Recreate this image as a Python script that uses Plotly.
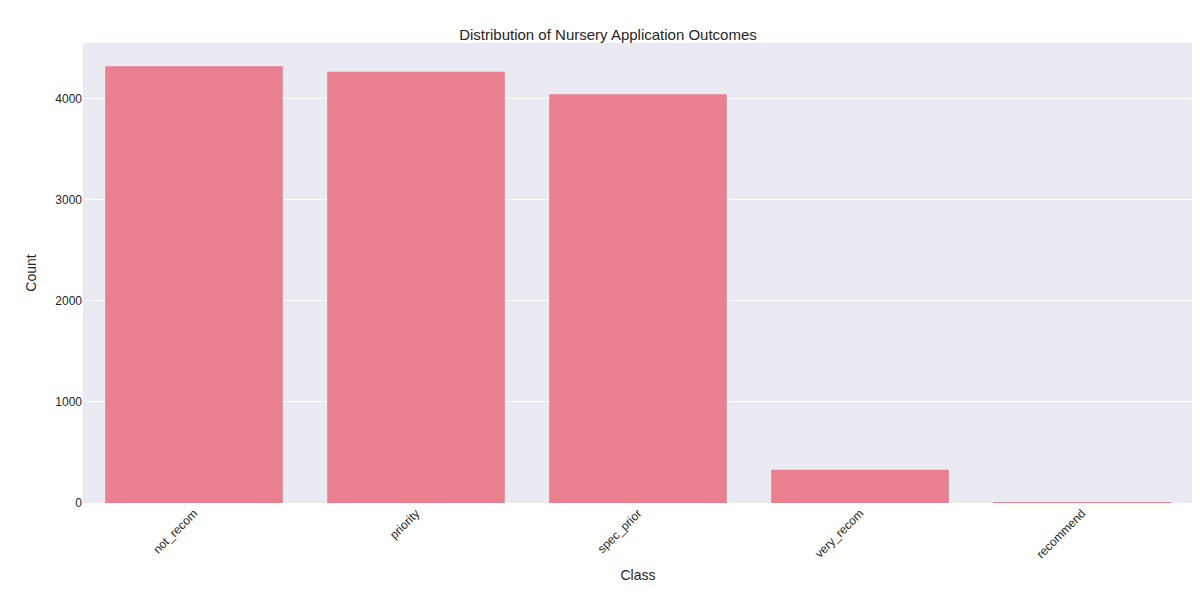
import plotly.graph_objects as go

# nursery class counts
classes = ["not_recom", "priority", "spec_prior", "very_recom", "recommend"]
counts = [4320, 4266, 4044, 328, 2]

fig = go.Figure()
fig.add_trace(go.Bar(
    x=classes,
    y=counts,
    marker=dict(color="#e8808f", line=dict(width=0)),
    width=0.8,
))

fig.update_layout(
    title=dict(text="Distribution of Nursery Application Outcomes", x=0.5, y=0.965,
               font=dict(size=15, color="#262626")),
    width=1200,
    height=600,
    margin=dict(l=75, r=15, t=35, b=105),
    paper_bgcolor="white",
    plot_bgcolor="#eaeaf2",
    font=dict(family="Arial, Liberation Sans", size=12, color="#262626"),
    showlegend=False,
)
fig.update_xaxes(
    title_text="Class", tickangle=-45, showgrid=False, automargin=False,
    range=[-0.5, 4.5], title_font=dict(size=14), title_standoff=10,
)
fig.update_yaxes(
    title_text="Count", range=[0, 4550], dtick=1000, gridcolor="white",
    gridwidth=1, zeroline=False, title_font=dict(size=14), automargin=False,
)

fig.write_html("out.html")
